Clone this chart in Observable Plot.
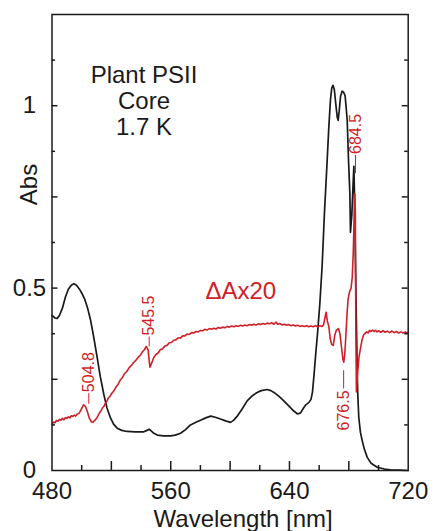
<!DOCTYPE html>
<html><head><meta charset="utf-8">
<script src="https://cdn.jsdelivr.net/npm/d3@7"></script>
<script src="https://cdn.jsdelivr.net/npm/@observablehq/plot@0.6"></script>
<style>
body{margin:0;background:#fff;}
svg{font-family:"Liberation Sans", Arial, Helvetica, sans-serif;}
</style></head><body><div id="chart"></div>
<script>
// Absorption spectrum (black)
const absWl = [480,482,483.5,485,487,489,491,493,494.7,496.5,498.5,500.5,502,504,506,508,510.4,512.5,514.9,517,519.4,521.5,523.9,527,530.6,536,541.9,544,545.5,547,548.6,551,555,560,563,566.6,570,573.3,577,580,584,587,590,593.5,597,600.3,602.5,604.8,608,611.5,615,618.2,621,625,627.5,629.5,633,636.2,640,642.9,645.5,647.5,649.6,651,653,654.5,655.5,656.5,657.5,659,660.5,662,663.5,665.4,666.5,667.6,668.5,669.3,670.2,671.2,672.2,672.8,673.5,674.4,675.5,676.5,677.5,678.3,678.9,679.8,680.7,681.1,682,682.8,683.4,683.8,684.3,684.8,685.3,685.6,686.1,686.7,687.8,689,690.5,692.4,695,699.1,704,708,714,720];
const absVal = [0.425,0.418,0.417,0.425,0.445,0.475,0.497,0.508,0.512,0.508,0.497,0.483,0.470,0.445,0.412,0.368,0.311,0.258,0.209,0.172,0.144,0.127,0.116,0.110,0.107,0.106,0.106,0.110,0.113,0.108,0.102,0.097,0.095,0.095,0.097,0.102,0.112,0.125,0.132,0.138,0.145,0.149,0.146,0.141,0.136,0.132,0.138,0.149,0.168,0.191,0.205,0.214,0.219,0.222,0.219,0.214,0.203,0.191,0.175,0.163,0.155,0.158,0.172,0.180,0.186,0.195,0.215,0.26,0.31,0.38,0.46,0.56,0.70,0.85,0.94,1.015,1.048,1.056,1.045,1.005,0.968,0.960,0.985,1.025,1.040,1.037,1.027,0.99,0.96,0.85,0.759,0.653,0.70,0.78,0.834,0.76,0.62,0.48,0.36,0.274,0.20,0.146,0.105,0.082,0.058,0.036,0.02,0.009,0.004,0.002,0.001,0.0];

// Difference spectrum x20 (red), read point by point including its noise
const diffWl = [480.3,481,482,483,484,485,486,487,488,489,490,491,492,493,494,495,496,497,498,499,500,501.2,502.5,503.7,505,506.5,507.5,509,510.5,512,513,514,515,516,517,518,519,520,521.5,523,524.5,526,527.5,529,530.5,532,533.5,535,536.5,538,539.5,541,542.3,543.5,544.8,545.5,546,547,548.6,550,551.5,553,554.5,556,557.5,559,560.5,562,563.5,565,566.5,568,569.5,571,572.5,574,575.5,577,578.5,580,581.5,583,584.5,586,587.5,589,590.5,592,593.5,595,596.5,598,599.5,601,602.5,604,605.5,607,608.5,610,611.5,613,614.5,616,617.5,619,620.5,622,623.5,625,626.5,628,629.5,631,632,633.5,635,636.5,638,639.5,641,642.5,644,645.5,647,648.5,650,651.5,653,654.5,656,657.5,659,660.5,662,663,664,664.7,665.5,666.5,667.5,668.5,669.5,670.5,671.5,673,674,675,676,676.6,677.3,678,678.8,679.5,680.5,681.5,682.3,683,683.6,684,684.4,684.7,685.1,685.8,686.8,688,689,690,691,692,693,694,695,696,697,698,699,700,701.5,703,704.5,706,707.5,709,710.5,712,713.5,715,716.5,718,719,720];
const diffVal = [0.128,0.133,0.131,0.137,0.135,0.140,0.138,0.143,0.139,0.145,0.143,0.147,0.144,0.150,0.148,0.152,0.149,0.155,0.156,0.162,0.170,0.180,0.176,0.163,0.145,0.133,0.132,0.138,0.146,0.158,0.163,0.172,0.176,0.185,0.190,0.199,0.203,0.210,0.217,0.228,0.236,0.248,0.255,0.266,0.272,0.282,0.288,0.296,0.302,0.310,0.316,0.326,0.331,0.340,0.330,0.300,0.283,0.293,0.310,0.318,0.322,0.331,0.334,0.341,0.343,0.350,0.351,0.357,0.358,0.364,0.363,0.369,0.369,0.374,0.373,0.378,0.377,0.381,0.380,0.384,0.383,0.387,0.385,0.389,0.387,0.390,0.388,0.392,0.390,0.393,0.391,0.395,0.393,0.396,0.394,0.397,0.395,0.398,0.396,0.399,0.397,0.400,0.398,0.401,0.399,0.402,0.400,0.403,0.401,0.404,0.402,0.405,0.401,0.407,0.401,0.403,0.399,0.401,0.398,0.400,0.397,0.399,0.396,0.398,0.395,0.397,0.395,0.397,0.394,0.396,0.394,0.397,0.394,0.397,0.395,0.400,0.420,0.434,0.41,0.395,0.36,0.345,0.343,0.37,0.384,0.389,0.375,0.34,0.305,0.297,0.32,0.37,0.43,0.47,0.49,0.50,0.53,0.60,0.70,0.759,0.70,0.40,0.215,0.26,0.31,0.338,0.360,0.372,0.376,0.380,0.377,0.384,0.381,0.385,0.381,0.384,0.380,0.383,0.379,0.383,0.379,0.382,0.378,0.382,0.378,0.381,0.377,0.380,0.377,0.380,0.376,0.379];

// Axis ticks and labels
const xTickLabels = [480,560,640,720];
const xMajorTicks = [520,560,600,640,680];
const xMinorTicks = [500,540,580,620,660,700];
const yTickLabels = [0,0.5,1];
const yMajorTicks = [0.25,0.5,0.75,1];
const yMinorTicks = [0.125,0.375,0.625,0.875,1.125];

// Peak annotations
const peakLabels = ["504.8","545.5","676.5","684.5"];
const peakWl = [504.8,545.5,676.5,684.5];
const leaderFrom = [0.183,0.340,0.275,0.815];
const leaderTo = [0.212,0.367,0.225,0.865];
const labelAnchor = ["start","start","end","start"];

const titleLines = ["Plant PSII","Core","1.7 K"];
const seriesLabel = "ΔAx20";
const xLabel = "Wavelength [nm]";
const yLabel = "Abs";

const RED = "#d01f26";
const INK = "#1a1a1a";
const W = 434, H = 531, mL = 51.5, mR = 26.3, mT = 14, mB = 61;
const fw = W - mL - mR, fh = H - mT - mB;

const absData = absWl.map((w,i)=>({w, v: absVal[i]}));
const diffData = diffWl.map((w,i)=>({w, v: diffVal[i]}));
const peaks = peakWl.map((w,i)=>({w, label: peakLabels[i], y1: leaderFrom[i], y2: leaderTo[i], anchor: labelAnchor[i]}));

const chart = Plot.plot({
  width: W, height: H,
  marginLeft: mL, marginRight: mR, marginTop: mT, marginBottom: mB,
  x: {domain: [480, 720], axis: null},
  y: {domain: [0, 1.25], axis: null},
  style: {fontFamily: '"Liberation Sans", Arial, Helvetica, sans-serif', background: "#fff"},
  marks: [
    Plot.line(absData, {x: "w", y: "v", stroke: INK, strokeWidth: 1.7}),
    Plot.line(diffData, {x: "w", y: "v", stroke: RED, strokeWidth: 1.6}),
    // leader lines
    Plot.link(peaks, {x1: "w", x2: "w", y1: "y1", y2: "y2", stroke: RED, strokeWidth: 1}),
    Plot.text(peaks.filter(d=>d.anchor==="start"), {x: "w", y: "y2", text: "label", rotate: -90, textAnchor: "start", lineAnchor: "middle", dy: -1, fill: RED, fontSize: 16}),
    Plot.text(peaks.filter(d=>d.anchor==="end"), {x: "w", y: "y2", text: "label", rotate: -90, textAnchor: "end", lineAnchor: "middle", dy: 2, fill: RED, fontSize: 16}),
    // frame and inward ticks
    Plot.frame({stroke: INK, strokeWidth: 1.5}),
    Plot.tickX(xMajorTicks, {x: d=>d, insetTop: fh - 9, stroke: INK, strokeWidth: 1.5}),
    Plot.tickX(xMinorTicks, {x: d=>d, insetTop: fh - 5, stroke: INK, strokeWidth: 1.5}),
    Plot.tickY(yMajorTicks, {y: d=>d, insetRight: fw - 6, stroke: INK, strokeWidth: 1.5}),
    Plot.tickY(yMinorTicks, {y: d=>d, insetRight: fw - 3.5, stroke: INK, strokeWidth: 1.5}),
    Plot.tickY(yMajorTicks, {y: d=>d, insetLeft: fw - 6, stroke: INK, strokeWidth: 1.5}),
    Plot.tickY(yMinorTicks, {y: d=>d, insetLeft: fw - 3.5, stroke: INK, strokeWidth: 1.5}),
    // tick labels
    Plot.text(xTickLabels, {x: d=>d, text: d=>String(d), frameAnchor: "bottom", lineAnchor: "bottom", dy: 28.3, fontSize: 24, fill: INK}),
    Plot.text(yTickLabels, {y: d=>d, text: d=>String(d), frameAnchor: "left", textAnchor: "middle", lineAnchor: "middle", dx: -22.5, fontSize: 24, fill: INK}),
    // axis titles
    Plot.text([xLabel], {x: ()=>608.8, frameAnchor: "bottom", lineAnchor: "bottom", dy: 56, fontSize: 24, fill: INK}),
    Plot.text([yLabel], {y: ()=>0.784, frameAnchor: "left", rotate: -90, textAnchor: "middle", lineAnchor: "bottom", dx: -15.5, fontSize: 24, fill: INK}),
    // in-plot labels
    Plot.text([titleLines.join("\n")], {x: ()=>542, y: ()=>1.1112, lineAnchor: "top", textAnchor: "middle", lineHeight: 1.07, fontSize: 24, fill: INK}),
    Plot.text([seriesLabel], {x: ()=>607.2, y: ()=>0.469, lineAnchor: "bottom", textAnchor: "middle", fontSize: 24, fill: RED})
  ]
});
document.getElementById("chart").appendChild(chart);
</script></body></html>
